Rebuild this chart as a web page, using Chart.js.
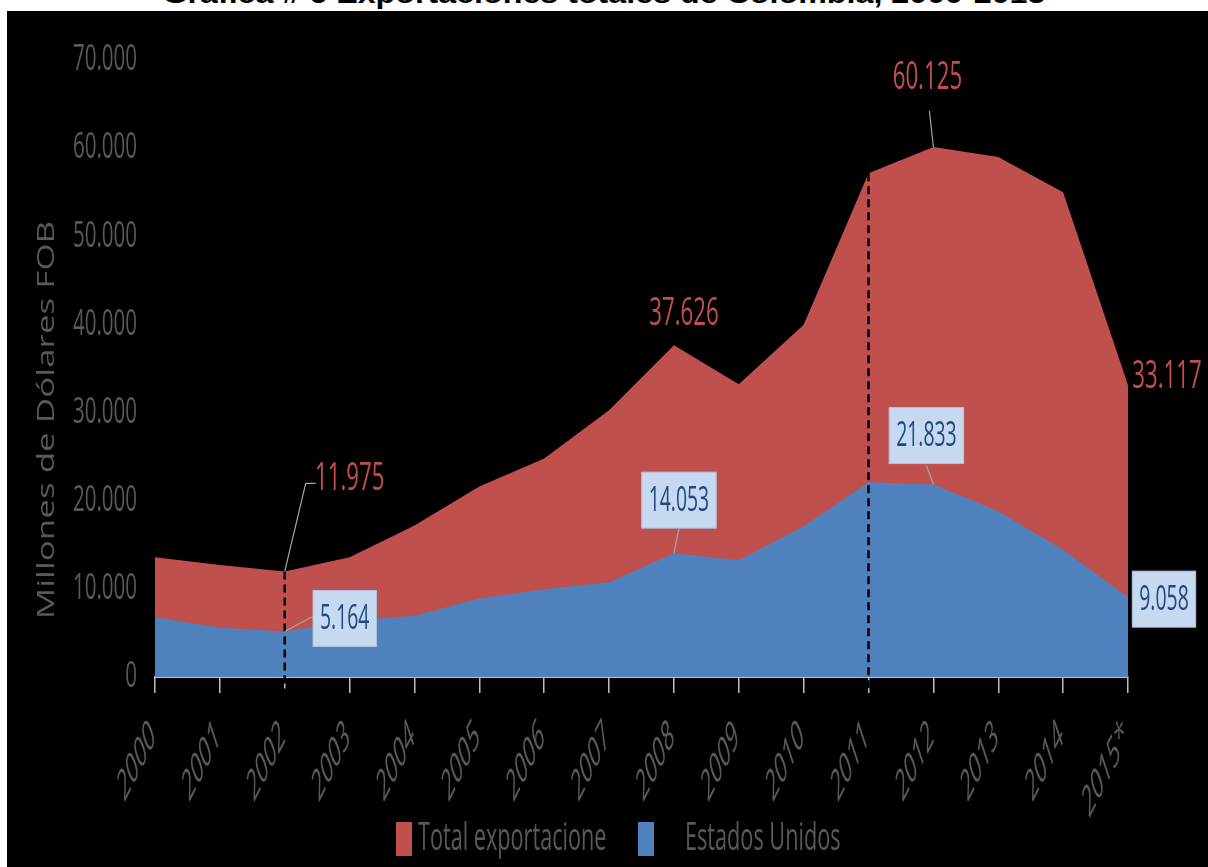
<!DOCTYPE html>
<html>
<head>
<meta charset="utf-8">
<script src="https://cdn.jsdelivr.net/npm/chart.js@4.4.1/dist/chart.umd.min.js"></script>
<style>
  html, body { margin: 0; padding: 0; background: #fff; }
  body { width: 1208px; height: 867px; overflow: hidden; position: relative; }
  #title {
    position: absolute; left: 0; top: -19px; width: 1208px; text-align: center;
    font: bold 27px "Liberation Sans", Arial, sans-serif; line-height: 27px; color: #000;
    white-space: nowrap;
  }
  #title span { display: inline-block; transform-origin: center; }
  #panel { position: absolute; left: 7px; top: 11px; width: 1201px; height: 856px; background: #000; }
  #panel canvas { display: block; }
</style>
</head>
<body>
<div id="title"><span>Gráfica # 6 Exportaciones totales de Colombia, 2000-2015</span></div>
<div id="panel"><canvas id="chartExports" width="1201" height="856"></canvas></div>
<script>
// data
const years = ["2000","2001","2002","2003","2004","2005","2006","2007","2008","2009","2010","2011","2012","2013","2014","2015*"];
const totalExports = [13600, 12700, 11975, 13600, 17200, 21600, 24800, 30250, 37626, 33200, 39950, 57150, 60125, 59000, 55000, 33117];
const usExports = [6800, 5600, 5164, 6400, 6950, 8900, 9950, 10750, 14053, 13250, 17100, 22100, 21833, 18800, 14450, 9058];
const yTicks = [0, 10000, 20000, 30000, 40000, 50000, 60000, 70000];
const totalLabel = "Total exportacione";
const usLabel = "Estados Unidos";
const yTitle = "Millones de Dólares FOB";
const markedYears = [2, 11];
const totalLabelIdx = [2, 8, 12, 15];
const usLabelIdx = [2, 8, 12, 15];

const red = "#c0504d";
const blue = "#4f81bd";
const gray = "#595959";
const boxFill = "#c6d9f1";
const boxText = "#1f497d";
const S = 0.57; // the picture is squeezed sideways

// fit the title width
{
  const span = document.querySelector("#title span");
  const w = span.getBoundingClientRect().width;
  span.style.transform = "scaleX(" + (883 / w) + ")";
}

function fmt(v) {
  return String(v).replace(/\B(?=(\d{3})+(?!\d))/g, ".");
}

function squashText(ctx, text, x, y, o) {
  ctx.save();
  ctx.translate(x, y);
  ctx.scale(o.sx || S, 1);
  if (o.rot) ctx.rotate(o.rot);
  ctx.font = o.font;
  ctx.fillStyle = o.color;
  ctx.textAlign = o.align || "center";
  ctx.textBaseline = o.base || "middle";
  ctx.fillText(text, 0, 0);
  ctx.restore();
}

// label offsets from their points
const totalOffsets = { 2: [65, -93], 8: [10, -31], 12: [-6, -69], 15: [39, -8] };
const usOffsets = { 2: [60, -13], 8: [5, -53], 12: [-7, -49], 15: [36, 2] };

const decorations = {
  id: "decorations",
  afterDraw(chart) {
    const ctx = chart.ctx;
    const xs = chart.scales.x;
    const ys = chart.scales.y;
    const area = chart.chartArea;

    // y tick labels
    yTicks.forEach(v => {
      squashText(ctx, fmt(v), 130, ys.getPixelForValue(v), {
        font: "36px 'Open Sans'", color: gray, align: "right"
      });
    });

    // y title
    squashText(ctx, yTitle, 40, 409, {
      font: "35px 'Open Sans'", color: gray, rot: -Math.PI / 2, sx: 0.7
    });

    // x labels
    years.forEach((y, i) => {
      squashText(ctx, y, xs.getPixelForValue(i) - 2, 719, {
        font: "italic 41px 'Open Sans'", color: gray, align: "right", rot: -Math.PI / 4, sx: 0.51
      });
    });

    // dashed markers
    ctx.save();
    ctx.strokeStyle = "#000";
    ctx.lineWidth = 2.5;
    ctx.setLineDash([8, 5]);
    markedYears.forEach(i => {
      const x = xs.getPixelForValue(i);
      ctx.beginPath();
      ctx.moveTo(x, ys.getPixelForValue(totalExports[i]));
      ctx.lineTo(x, area.bottom + 17);
      ctx.stroke();
    });
    ctx.restore();

    // leader lines
    ctx.save();
    ctx.strokeStyle = "#a6a6a6";
    ctx.lineWidth = 1.2;
    const lead = (i, arr, pts) => {
      const x = xs.getPixelForValue(i), y = ys.getPixelForValue(arr[i]);
      ctx.beginPath();
      ctx.moveTo(x, y);
      pts.forEach(p => ctx.lineTo(x + p[0], y + p[1]));
      ctx.stroke();
    };
    lead(2, totalExports, [[21, -88], [31, -88]]);
    lead(12, totalExports, [[-4, -36]]);
    lead(2, usExports, [[26, -14], [29, -14]]);
    lead(8, usExports, [[5, -25]]);
    lead(12, usExports, [[-7, -19]]);
    ctx.restore();

    // red value labels
    totalLabelIdx.forEach(i => {
      const x = xs.getPixelForValue(i), y = ys.getPixelForValue(totalExports[i]);
      const o = totalOffsets[i];
      squashText(ctx, fmt(totalExports[i]), x + o[0], y + o[1], {
        font: "39px 'Open Sans'", color: red
      });
    });

    // blue value labels in boxes
    usLabelIdx.forEach(i => {
      const x = xs.getPixelForValue(i), y = ys.getPixelForValue(usExports[i]);
      const o = usOffsets[i];
      const cx = x + o[0], cy = y + o[1];
      ctx.save();
      ctx.font = "34px 'Open Sans'";
      const tw = ctx.measureText(fmt(usExports[i])).width * S;
      ctx.fillStyle = boxFill;
      ctx.fillRect(cx - tw / 2 - 7, cy - 28, tw + 14, 56);
      ctx.strokeStyle = "#b0c4de";
      ctx.lineWidth = 1;
      ctx.strokeRect(cx - tw / 2 - 7, cy - 28, tw + 14, 56);
      ctx.restore();
      squashText(ctx, fmt(usExports[i]), cx, cy + 1, {
        font: "34px 'Open Sans'", color: boxText
      });
    });

    // legend
    ctx.fillStyle = red;
    ctx.fillRect(389, 811, 16, 34);
    squashText(ctx, totalLabel, 411, 828, { font: "38px 'Open Sans'", color: gray, align: "left" });
    ctx.fillStyle = blue;
    ctx.fillRect(631, 811, 16, 34);
    squashText(ctx, usLabel, 678, 828, { font: "38px 'Open Sans'", color: gray, align: "left" });
  }
};

const ctx = document.getElementById("chartExports").getContext("2d");
new Chart(ctx, {
  type: "line",
  data: {
    labels: years,
    datasets: [
      {
        label: usLabel,
        data: usExports,
        backgroundColor: blue,
        borderColor: blue,
        borderWidth: 0,
        pointRadius: 0,
        fill: "origin",
        tension: 0
      },
      {
        label: totalLabel,
        data: totalExports,
        backgroundColor: red,
        borderColor: red,
        borderWidth: 0,
        pointRadius: 0,
        fill: "origin",
        tension: 0
      }
    ]
  },
  options: {
    responsive: false,
    animation: false,
    layout: { padding: { left: 0, right: 80, top: 49, bottom: 0 } },
    plugins: {
      legend: { display: false },
      tooltip: { enabled: false }
    },
    scales: {
      x: {
        z: 1,
        offset: false,
        ticks: { display: false },
        grid: {
          display: true,
          drawOnChartArea: false,
          drawTicks: true,
          tickLength: 16,
          color: "#bfbfbf",
          lineWidth: 1.5
        },
        border: { display: true, color: "#bfbfbf", width: 2 },
        afterFit(scale) { scale.height = 190; }
      },
      y: {
        min: 0,
        max: 70000,
        ticks: { display: false, stepSize: 10000 },
        grid: { display: false },
        border: { display: false },
        afterFit(scale) { scale.width = 148; }
      }
    }
  },
  plugins: [decorations]
});
</script>
</body>
</html>
